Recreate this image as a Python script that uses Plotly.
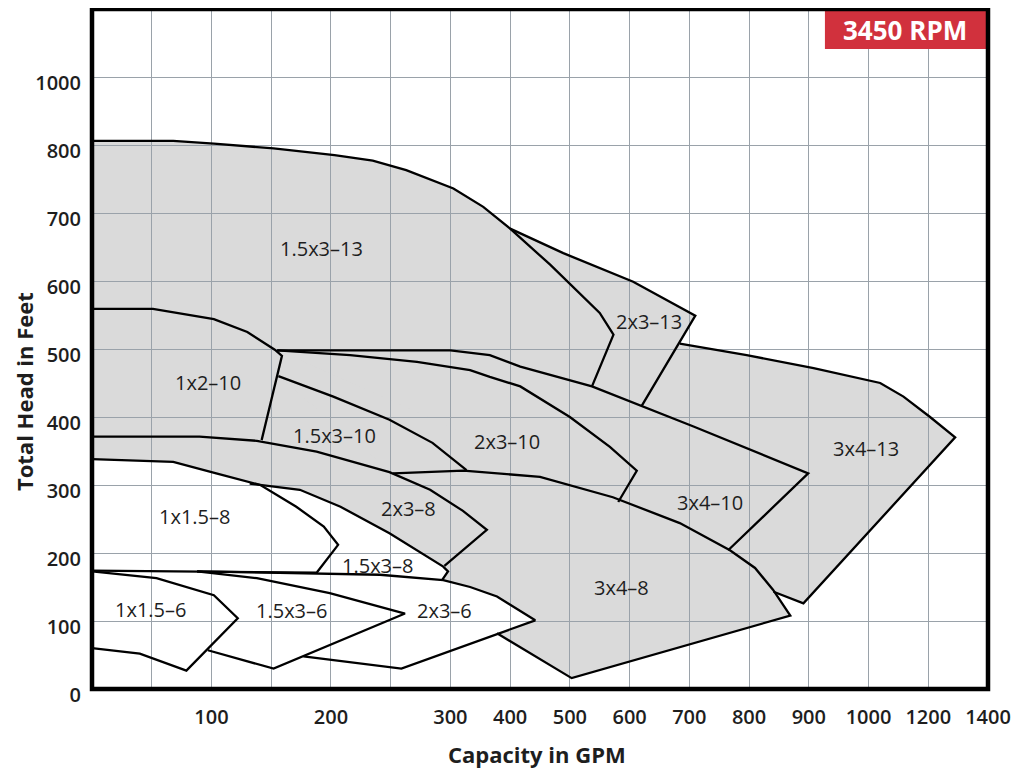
import numpy as np
import plotly.graph_objects as go

# ---------------- axis scales (as printed on the chart) ----------------
X_SCALE_GPM = [0, 300, 1000, 1400]          # piecewise-linear capacity axis
X_SCALE_POS = [0, 6, 13, 15]
X_GRID_GPM = [50, 100, 150, 200, 250, 300, 400, 500, 600, 700, 800, 900, 1000, 1200, 1400]
X_LABEL_GPM = [100, 200, 300, 400, 500, 600, 700, 800, 900, 1000, 1200, 1400]
Y_GRID_FT = [0, 100, 200, 300, 400, 500, 600, 700, 800, 900]
Y_TICK_TEXT = ["0", "100", "200", "300", "400", "500", "600", "700", "800", "1000"]

# ---------------- pump coverage regions (GPM, feet) ----------------
# TOP = max-impeller curve up to its tip, END = visible closing edge,
# HIDDEN = boundary points covered by neighbouring regions
P1513_TOP = [(0, 806), (68, 806), (102, 802), (152, 795), (203, 785), (235, 777), (263, 763),
             (305, 736), (355, 709), (400, 677), (467, 624), (505, 591), (550, 553), (573, 521)]
P1513_END = [(537, 445)]
P1513_HIDDEN = [(0, 445)]

P2313_TOP = [(400, 677), (489, 641), (606, 599), (662, 572), (710, 549)]
P2313_END = [(620, 416)]
P2313_HIDDEN = [(537, 445), (573, 521), (505, 591)]

P3413_TOP = [(684, 508), (796, 491), (908, 472), (1039, 450), (1117, 430), (1206, 400), (1290, 370)]
P3413_END = [(891, 126), (841, 143)]
P3413_HIDDEN = [(810, 178), (768, 204), (620, 416)]

P1210_TOP = [(0, 559), (51, 559), (102, 544), (130, 525), (153, 499), (159, 490)]
P1210_END = [(142, 366)]
P1210_HIDDEN = [(0, 370)]

P1510_TOP = [(156, 460), (202, 430), (249, 396), (285, 362), (327, 322)]
P1510_END = []
P1510_HIDDEN = [(297, 275), (142, 366)]

P2310_TOP = [(155, 498), (216, 491), (272, 481), (333, 469), (366, 459), (417, 445),
             (500, 400), (567, 356), (612, 321)]
P2310_END = [(581, 275)]
P2310_HIDDEN = [(450, 312), (252, 317), (156, 460)]

P3410_TOP = [(155, 498), (300, 498), (366, 491), (417, 474), (537, 445), (623, 415),
             (707, 386), (899, 317)]
P3410_END = [(765, 204)]
P3410_HIDDEN = [(581, 275)]

P348_TOP = [(252, 317), (322, 321), (450, 312), (572, 282), (684, 244), (768, 204),
            (810, 178), (840, 146), (869, 108)]
P348_END = [(503, 16), (378, 82)]
P348_HIDDEN = [(293, 160)]

P238_TOP = [(0, 371), (90, 371), (138, 365), (188, 349), (249, 319), (283, 293), (321, 262), (361, 234)]
P238_END = [(295, 181)]
P238_HIDDEN = [(258, 190), (132, 249), (0, 249)]

P1158_TOP = [(0, 338), (68, 334), (104, 317), (141, 300), (171, 268), (194, 239), (206, 212)]
P1158_END = [(188, 171), (0, 174)]
P1158_HIDDEN = []

P158_TOP = [(132, 302), (174, 293), (208, 268), (249, 229), (294, 180), (298, 173)]
P158_END = [(293, 160)]
P158_HIDDEN = [(194, 170), (132, 171)]

P236_TOP = [(88, 173), (194, 170), (241, 168), (294, 160), (333, 150), (378, 136), (442, 101)]
P236_END = [(259, 30), (177, 48)]
P236_HIDDEN = []

P156_TOP = [(88, 173), (138, 163), (199, 141), (262, 111)]
P156_END = [(152, 30), (97, 57)]
P156_HIDDEN = []

P1156_TOP = [(0, 173), (54, 163), (102, 138), (122, 104)]
P1156_END = [(79, 27), (40, 52), (0, 60)]
P1156_HIDDEN = []

# label anchors (GPM, feet)
LABELS = [("1.5x3–13", 192, 648), ("2x3–13", 633, 541), ("3x4–13", 995, 354),
          ("1x2–10", 97, 451), ("1.5x3–10", 203, 373), ("2x3–10", 394, 364),
          ("3x4–10", 735, 275), ("2x3–8", 265, 265), ("3x4–8", 587, 150),
          ("1x1.5–8", 86, 253), ("1.5x3–8", 239, 182), ("1x1.5–6", 49, 117),
          ("1.5x3–6", 167, 115), ("2x3–6", 295, 116)]

SPEED_TEXT = "3450 RPM"

# ---------------- styles ----------------
GRAY = "#DADADA"
WHITE = "#FFFFFF"
GRID = "#9AA2AA"
INK = "#1E1E1E"
RED = "#D1313D"
FONT = "Open Sans"

# draw order: gray regions first, white regions on top
PUMPS = [
    (P1513_TOP, P1513_END, P1513_HIDDEN, GRAY),
    (P2313_TOP, P2313_END, P2313_HIDDEN, GRAY),
    (P3413_TOP, P3413_END, P3413_HIDDEN, GRAY),
    (P1210_TOP, P1210_END, P1210_HIDDEN, GRAY),
    (P1510_TOP, P1510_END, P1510_HIDDEN, GRAY),
    (P2310_TOP, P2310_END, P2310_HIDDEN, GRAY),
    (P3410_TOP, P3410_END, P3410_HIDDEN, GRAY),
    (P348_TOP, P348_END, P348_HIDDEN, GRAY),
    (P238_TOP, P238_END, P238_HIDDEN, GRAY),
    (P1158_TOP, P1158_END, P1158_HIDDEN, WHITE),
    (P158_TOP, P158_END, P158_HIDDEN, WHITE),
    (P236_TOP, P236_END, P236_HIDDEN, WHITE),
    (P156_TOP, P156_END, P156_HIDDEN, WHITE),
    (P1156_TOP, P1156_END, P1156_HIDDEN, WHITE),
]


def xq(q):
    return np.interp(q, X_SCALE_GPM, X_SCALE_POS)


fig = go.Figure()
shapes = []
for top, end, hidden, color in PUMPS:
    poly = top + end + hidden
    path = "M " + " L ".join(f"{xq(q):.4f},{h}" for q, h in poly) + " Z"
    shapes.append(dict(type="path", xref="x", yref="y", path=path,
                       fillcolor=color, line=dict(width=0), layer="below"))

for top, end, hidden, color in PUMPS:
    pts = top + end
    fig.add_trace(go.Scatter(
        x=[xq(q) for q, h in pts], y=[h for q, h in pts], mode="lines",
        line=dict(color="#000000", width=2.3), hoverinfo="skip", showlegend=False))

annotations = []
for text, q, h in LABELS:
    annotations.append(dict(x=xq(q), y=h, xref="x", yref="y", text=text, showarrow=False,
                            font=dict(family=FONT, size=20, color=INK),
                            xanchor="center", yanchor="middle"))

# speed badge
shapes.append(dict(type="rect", xref="paper", yref="paper", x0=0.818, x1=1.0, y0=0.941, y1=1.0,
                   fillcolor=RED, line=dict(width=0), layer="above"))
annotations.append(dict(x=0.907, y=0.969, xref="paper", yref="paper", text="<b>" + SPEED_TEXT + "</b>",
                        showarrow=False, font=dict(family=FONT, size=26, color="white"),
                        xanchor="center", yanchor="middle"))
# frame
shapes.append(dict(type="rect", xref="paper", yref="paper", x0=0, x1=1, y0=0, y1=1,
                   line=dict(color="#000000", width=4.5), layer="above"))

# axis titles
annotations.append(dict(x=-0.076, y=0.438, xref="paper", yref="paper", text="<b>Total Head in Feet</b>",
                        textangle=-90, showarrow=False, font=dict(family=FONT, size=22, color=INK),
                        xanchor="center", yanchor="middle"))
annotations.append(dict(x=0.497, y=-0.0956, xref="paper", yref="paper", text="<b>Capacity in GPM</b>",
                        showarrow=False, font=dict(family=FONT, size=22, color=INK),
                        xanchor="center", yanchor="middle"))

x_tickvals = [float(xq(g)) for g in X_GRID_GPM]
x_ticktext = [str(g) if g in X_LABEL_GPM else "" for g in X_GRID_GPM]

# the page body adds an 8px offset, so the figure is 8px smaller on each axis
fig.update_layout(
    width=1020, height=762,
    margin=dict(l=84, r=40, t=1, b=81),
    paper_bgcolor="white", plot_bgcolor="white",
    shapes=shapes, annotations=annotations, showlegend=False,
    xaxis=dict(range=[0, 15], tickvals=x_tickvals, ticktext=x_ticktext, showgrid=True,
               gridcolor=GRID, gridwidth=1.3, zeroline=False, showline=False, ticks="",
               tickfont=dict(family=FONT, size=20, color=INK, weight=600),
               ticklabelstandoff=14, fixedrange=True),
    yaxis=dict(range=[0, 1000], tickvals=Y_GRID_FT, ticktext=Y_TICK_TEXT, showgrid=True,
               gridcolor=GRID, gridwidth=1.3, zeroline=False, showline=False, ticks="",
               tickfont=dict(family=FONT, size=20, color=INK, weight=600),
               ticklabelstandoff=10, ticklabelshift=6, fixedrange=True),
)

fig.write_html("out.html")
